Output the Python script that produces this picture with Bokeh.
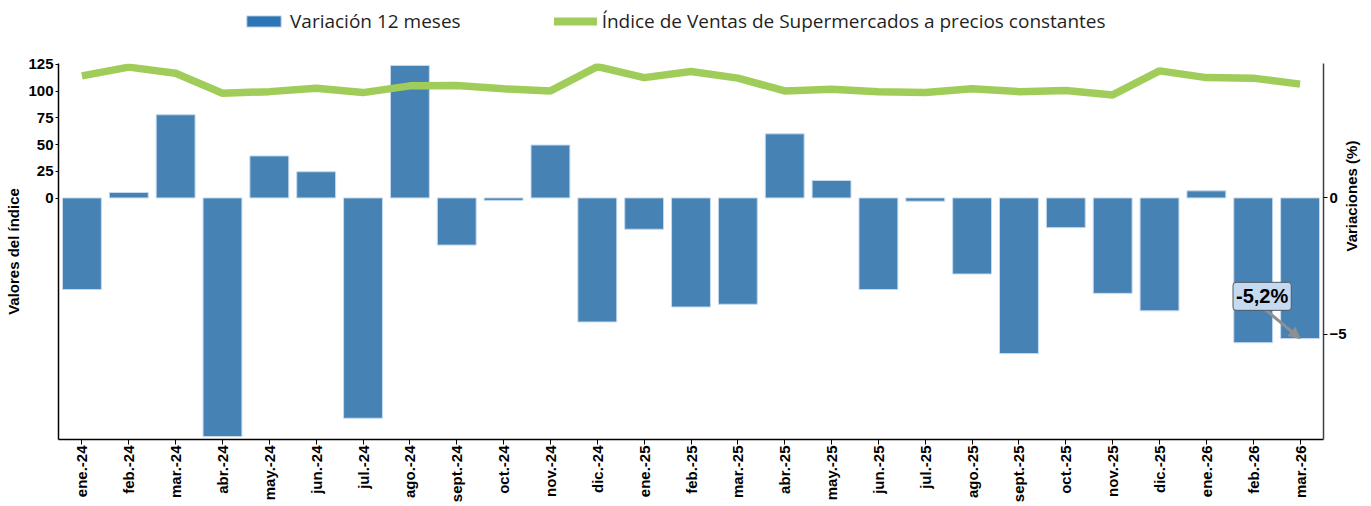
import math
from bokeh.plotting import figure
from bokeh.layouts import column
from bokeh.models import (Range1d, LinearAxis, FixedTicker, FactorRange, Legend, LegendItem,
                          Label, Arrow, NormalHead, ColumnDataSource)
from bokeh.embed import file_html
from bokeh.resources import INLINE

months = ["ene.-24", "feb.-24", "mar.-24", "abr.-24", "may.-24", "jun.-24", "jul.-24",
          "ago.-24", "sept.-24", "oct.-24", "nov.-24", "dic.-24", "ene.-25", "feb.-25",
          "mar.-25", "abr.-25", "may.-25", "jun.-25", "jul.-25", "ago.-25", "sept.-25",
          "oct.-25", "nov.-25", "dic.-25", "ene.-26", "feb.-26", "mar.-26"]

variacion_12m = [-3.36, 0.20, 3.05, -8.75, 1.54, 0.96, -8.08, 4.86, -1.73, -0.09, 1.94,
                 -4.55, -1.15, -4.00, -3.90, 2.35, 0.64, -3.36, -0.12, -2.79, -5.71,
                 -1.09, -3.50, -4.14, 0.26, -5.31, -5.16]

indice = [114.2, 122.4, 116.7, 98.0, 99.5, 102.7, 98.6, 104.9, 105.2, 102.1, 100.2,
          122.9, 112.6, 118.3, 112.1, 100.2, 101.7, 99.5, 98.6, 102.1, 99.5, 100.5,
          96.4, 118.9, 112.6, 112.1, 106.5]

left_ticks = [0, 25, 50, 75, 100, 125]
right_ticks = [-5, 0]

label_bar = "Variación 12 meses"
label_line = "Índice de Ventas de Supermercados a precios constantes"

src = ColumnDataSource(dict(m=months, v=variacion_12m, idx=indice))

FONT = "Liberation Sans"
W = 1371
LEG_H = 53
H = 506 - LEG_H
TOP, BOTTOM, LEFT, RIGHT = 10, 67, 58, 48
BAR_COLOR = "#4682B4"
LINE_COLOR = "#A0CD5A"

# ---------------- legend strip ----------------
lg = figure(width=W, height=LEG_H, x_range=Range1d(0, 1), y_range=Range1d(0, 1),
            output_backend="svg", toolbar_location=None, x_axis_type=None, y_axis_type=None,
            min_border=0)
lg.outline_line_color = None
lg.xgrid.grid_line_color = None
lg.ygrid.grid_line_color = None
nan_src = ColumnDataSource(dict(x=[float("nan")], y=[float("nan")]))
leg_bar = lg.vbar(x="x", top="y", width=0.1, source=nan_src,
                  fill_color="#2E75B6", line_color="#C6DAEF", line_width=1)
leg_line = lg.line(x="x", y="y", source=nan_src, line_color=LINE_COLOR, line_width=8,
                   line_cap="round")
legend = Legend(items=[LegendItem(label=label_bar, renderers=[leg_bar]),
                       LegendItem(label=label_line, renderers=[leg_line])],
                orientation="horizontal", location=(184, 19))
legend.border_line_color = None
legend.background_fill_alpha = 0
legend.padding = 0
legend.margin = 0
legend.spacing = 93
legend.glyph_width = 43
legend.glyph_height = 14
legend.label_standoff = 5
legend.label_text_font = "Open Sans"
legend.label_text_font_size = "19px"
legend.label_text_color = "#1F1F1F"
lg.add_layout(legend, "center")

# ---------------- main chart ----------------
p = figure(width=W, height=H, x_range=FactorRange(*months),
           y_range=Range1d(-225.7, 125.8), output_backend="svg", toolbar_location=None,
           min_border_left=LEFT, min_border_right=RIGHT, min_border_top=TOP,
           min_border_bottom=BOTTOM)
p.extra_y_ranges = {"pct": Range1d(-8.86, 4.93)}
p.outline_line_color = None
p.xgrid.grid_line_color = None
p.ygrid.grid_line_color = None
p.background_fill_color = "white"
p.border_fill_color = "white"

bars = p.vbar(x="m", top="v", width=0.83, source=src, y_range_name="pct",
              fill_color=BAR_COLOR, line_color="#C6DAEF", line_width=1)
line = p.line(x="m", y="idx", source=src, line_color=LINE_COLOR, line_width=7.5)

# x axis
xa = p.xaxis[0]
xa.major_label_orientation = math.pi / 2
xa.major_label_text_font = FONT
xa.major_label_text_font_style = "bold"
xa.major_label_text_font_size = "15px"
xa.major_label_text_color = "black"
xa.major_tick_out = 5
xa.major_tick_in = 0
xa.major_label_standoff = 1
xa.axis_line_color = "black"
xa.axis_line_width = 1.5
xa.major_tick_line_color = "black"

# left axis
ya = p.yaxis[0]
ya.ticker = FixedTicker(ticks=left_ticks)
ya.axis_label = "Valores del índice"
ya.axis_label_text_font = FONT
ya.axis_label_text_font_style = "bold"
ya.axis_label_text_font_size = "15px"
ya.axis_label_text_color = "black"
ya.axis_label_standoff = 3
ya.major_label_text_font = FONT
ya.major_label_text_font_style = "bold"
ya.major_label_text_font_size = "15px"
ya.major_label_text_color = "black"
ya.major_label_standoff = 2
ya.major_tick_out = 3
ya.major_tick_in = 0
ya.minor_tick_line_color = None
ya.axis_line_color = "black"
ya.axis_line_width = 1.5

# right axis
ra = LinearAxis(y_range_name="pct", ticker=FixedTicker(ticks=right_ticks))
ra.axis_label = "Variaciones (%)"
ra.axis_label_orientation = math.pi / 2
ra.axis_label_text_font = FONT
ra.axis_label_text_font_style = "bold"
ra.axis_label_text_font_size = "15px"
ra.axis_label_text_color = "black"
ra.axis_label_standoff = 2
ra.major_label_text_font = FONT
ra.major_label_text_font_style = "bold"
ra.major_label_text_font_size = "15px"
ra.major_label_text_color = "black"
ra.major_label_standoff = 2
ra.major_tick_out = 4
ra.major_tick_in = 0
ra.minor_tick_line_color = None
ra.axis_line_color = "#404040"
ra.axis_line_width = 1.5
p.add_layout(ra, "right")

# annotation on the last value
last_x = len(months) - 0.5
last_v = variacion_12m[-1]
txt = f"{last_v:.1f}%".replace(".", ",")
arrow = Arrow(x_start=last_x - 0.78, y_start=last_v + 1.12, x_end=last_x, y_end=last_v,
              y_range_name="pct", line_color="#8C9090", line_width=3,
              end=NormalHead(size=11, fill_color="#8C9090", line_color="#8C9090"))
p.add_layout(arrow)
lab = Label(x=last_x - 0.81, y=last_v + 1.55, y_range_name="pct", text=txt,
            text_align="center", text_baseline="middle", text_font=FONT,
            text_font_style="bold", text_font_size="20px", text_color="black",
            background_fill_color="#C5D9F1", border_line_color="#4D5A66",
            border_line_width=1, padding=3, border_radius=3)
p.add_layout(lab)

layout = column(lg, p, spacing=0)
open("out.html", "w").write(file_html(layout, INLINE))
